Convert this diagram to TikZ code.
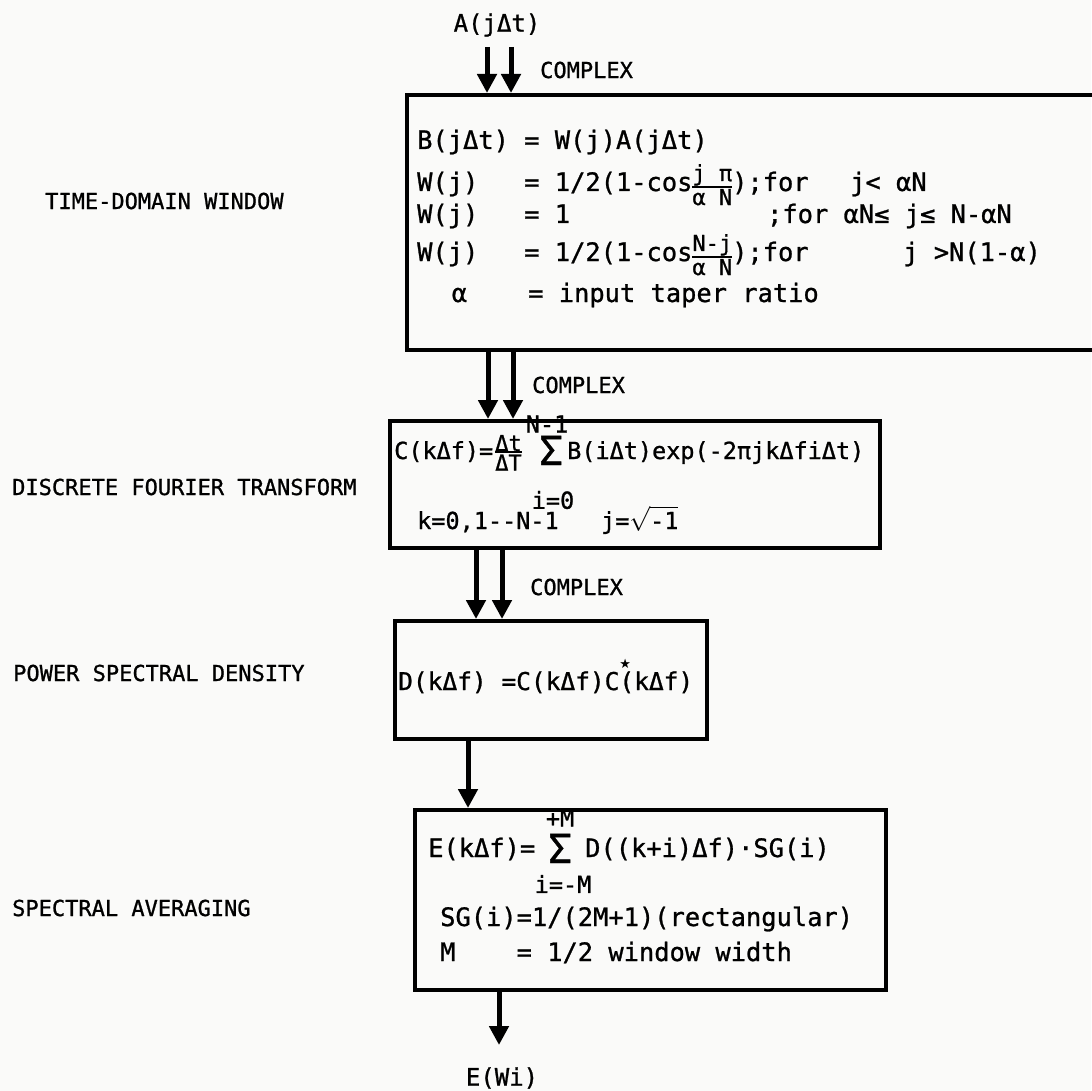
\documentclass[tikz,border=0pt]{standalone}
\usepackage{amsmath}
\usepackage{fontspec}
\setmainfont[FakeBold=1]{DejaVu Sans Mono}
\newfontfamily\symfont{DejaVu Sans}
\usetikzlibrary{arrows.meta}

\definecolor{paper}{RGB}{250,250,249}
% compact stacked fraction
\newcommand{\frc}[2]{\ensuremath{\vcenter{\hbox{\fontsize{22}{22}\selectfont
  \setbox0=\hbox{#1}\setbox2=\hbox{#2}%
  \ifdim\wd0>\wd2 \dimen0=\wd0 \else \dimen0=\wd2 \fi
  \vbox{\offinterlineskip
    \hbox to\dimen0{\hss\box0\hss}\vskip0pt
    \hrule height 2pt\vskip1.5pt
    \hbox to\dimen0{\hss\box2\hss}}}}}}

\begin{document}
\begin{tikzpicture}[x=1pt, y=-1pt,
    blk/.style={draw, line width=4pt, inner sep=0pt, anchor=north west},
    flow/.style={line width=5pt, -{Triangle[width=19pt,length=19pt]}},
    tag/.style={anchor=west, inner sep=0pt, font=\fontsize{22}{24}\selectfont},
    eqn/.style={anchor=base west, inner sep=0pt, font=\fontsize{25.4}{30}\selectfont},
    eqs/.style={anchor=base west, inner sep=0pt, font=\fontsize{23.5}{28}\selectfont},
    lim/.style={inner sep=0pt, font=\fontsize{23.5}{28}\selectfont},
    sig/.style={anchor=base, inner sep=0pt, font=\fontsize{40}{40}\selectfont}]
  \fill[paper] (0,0) rectangle (1091,1091);
  \useasboundingbox (0,0) rectangle (1091,1091);

  % blocks
  \node[blk, minimum width=697pt, minimum height=255pt] (win) at (405,93) {};
  \node[blk, minimum width=490pt, minimum height=127pt] (dft) at (388,419) {};
  \node[blk, minimum width=312pt, minimum height=118pt] (psd) at (393,619) {};
  \node[blk, minimum width=471pt, minimum height=180pt] (avg) at (413,808) {};

  % stage names
  \node[tag] (twin) at (45,201) {TIME-DOMAIN WINDOW};
  \node[tag] (tdft) at (12,487) {DISCRETE FOURIER TRANSFORM};
  \node[tag] (tpsd) at (13,673) {POWER SPECTRAL DENSITY};
  \node[tag] (tavg) at (12,908) {SPECTRAL AVERAGING};

  % input and output
  \node[inner sep=0pt, font=\fontsize{24}{28}\selectfont] (inp) at (497,25) {A(jΔt)};
  \node[inner sep=0pt, font=\fontsize{24}{28}\selectfont] (outp) at (502,1078) {E(Wi)};
  \coordinate (ina) at (487,47);
  \coordinate (inb) at (511,47);
  \coordinate (out) at (499,1045);

  \draw[flow] (ina) -- (ina |- win.north);
  \draw[flow] (inb) -- (inb |- win.north);
  \node[tag] (cx1) at (540,70) {COMPLEX};
  \draw[flow] (488,0 |- win.south) -- (488,0 |- dft.north);
  \draw[flow] (513,0 |- win.south) -- (513,0 |- dft.north);
  \node[tag] (cx2) at (532,385) {COMPLEX};
  \draw[flow] (476,0 |- dft.south) -- (476,0 |- psd.north);
  \draw[flow] (502,0 |- dft.south) -- (502,0 |- psd.north);
  \node[tag] (cx3) at (530,587) {COMPLEX};
  \draw[flow] (468,0 |- psd.south) -- (468,0 |- avg.north);
  \draw[flow] (out |- avg.south) -- (out);

  % window
  \node[eqn] (w1) at (417,149) {B(jΔt)~=~W(j)A(jΔt)};
  \node[eqn] (w2) at (417,191) {W(j)~~~=~1/2(1-cos\frc{j~π}{α~N});for};
  \node[eqn] (w2r) at (850,191) {j<~αN};
  \node[eqn] (w3) at (417,223) {W(j)~~~=~1};
  \node[eqn, anchor=base east] (w3r) at (1012,223) {;for~αN≤~j≤~N-αN};
  \node[eqn] (w4) at (417,261) {W(j)~~~=~1/2(1-cos\frc{N-j}{α~N});for};
  \node[eqn] (w4r) at (903,261) {j~>N(1-α)};
  \node[eqn] (w5) at (421,302) {~~α~~~~=~input~taper~ratio};

  % fourier transform
  \node[eqs] (f1) at (394,459) {C(kΔf)=\kern2pt\frc{Δt}{ΔT}};
  \node[sig] (fsum) at (551,465) {Σ};
  \node[lim] (ftop) at (547,424) {N-1};
  \node[lim] (fbot) at (553,500) {i=0};
  \node[eqs] (f2) at (567,459) {B(iΔt)exp(-2πjkΔfiΔt)};
  \node[eqs] (f3) at (417,529) {k=0,1-{}-N-1~~~j=$\sqrt{\text{-1}}$};

  % power spectrum
  \node[anchor=base west, inner sep=0pt, font=\fontsize{24.5}{30}\selectfont] (p1) at (398,690)
    {D(kΔf)~=C(kΔf)C\rlap{\raisebox{22pt}{\symfont\fontsize{13}{13}\selectfont ★}}(kΔf)};

  % averaging
  \node[eqn] (a1) at (428,857) {E(kΔf)=};
  \node[sig] (asum) at (560,863) {Σ};
  \node[lim] (atop) at (560,818) {+M};
  \node[lim] (abot) at (563,884) {i=-M};
  \node[eqn] (a2) at (585,857) {D((k+i)Δf)·SG(i)};
  \node[eqn] (a3) at (440,926) {SG(i)=1/(2M+1)(rectangular)};
  \node[eqn] (a4) at (440,961) {M~~~~=~1/2~window~width};
\end{tikzpicture}
\end{document}
